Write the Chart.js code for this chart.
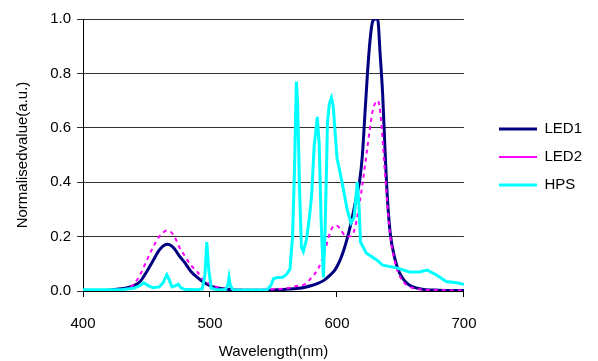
<!DOCTYPE html>
<html>
<head>
<meta charset="utf-8">
<script src="https://cdn.jsdelivr.net/npm/chart.js@4"></script>
<style>
  html, body { margin: 0; padding: 0; background: #fff; }
  #wrap { width: 598px; height: 361px; }
</style>
</head>
<body>
<div id="wrap"><canvas id="spectraChart" width="598" height="361"></canvas></div>
<script>
// wavelengths (nm) sampled for the two LED spectra
const ledNm = [400, 410, 420, 430, 435, 440, 445, 450, 455, 460, 463, 466, 469, 472, 476, 480, 485, 490, 495, 500,
  505, 510, 520, 530, 540, 550, 560, 570, 575, 580, 585, 590, 595, 598, 600, 603, 606, 609, 612, 615,
  618, 620, 622, 624, 626, 628, 630, 632, 634, 636, 638, 640, 642, 645, 648, 652, 656, 660, 665, 670,
  680, 690, 700];
const led1 = [0.002, 0.002, 0.003, 0.008, 0.012, 0.02, 0.035, 0.07, 0.11, 0.15, 0.165, 0.172, 0.168, 0.155, 0.128, 0.105, 0.072, 0.05, 0.032, 0.02,
  0.012, 0.008, 0.004, 0.003, 0.003, 0.004, 0.006, 0.01, 0.014, 0.02, 0.028, 0.04, 0.06, 0.075, 0.09, 0.12, 0.16, 0.21, 0.27, 0.34,
  0.41, 0.5, 0.65, 0.8, 0.92, 0.99, 1.0, 1.0, 0.87, 0.72, 0.5, 0.32, 0.21, 0.13, 0.08, 0.045, 0.025, 0.015, 0.008, 0.005,
  0.003, 0.002, 0.002];
const led2 = [0.002, 0.002, 0.003, 0.006, 0.01, 0.025, 0.06, 0.11, 0.16, 0.2, 0.215, 0.222, 0.218, 0.2, 0.16, 0.13, 0.095, 0.07, 0.04, 0.025,
  0.015, 0.01, 0.006, 0.005, 0.005, 0.006, 0.01, 0.02, 0.025, 0.05, 0.08, 0.14, 0.22, 0.24, 0.24, 0.225, 0.205, 0.2, 0.205, 0.25,
  0.33, 0.39, 0.46, 0.53, 0.6, 0.66, 0.69, 0.7, 0.66, 0.55, 0.42, 0.3, 0.2, 0.12, 0.07, 0.035, 0.018, 0.01, 0.006, 0.004,
  0.003, 0.002, 0.002];

// HPS lamp has narrow lines, so it gets its own wavelength list
const hpsNm = [400, 430, 440, 445, 448, 451, 455, 460, 463, 466, 468, 470, 473, 475, 477, 480, 490, 494, 496, 497.5,
  499, 501, 505, 512, 514, 515, 516, 518, 530, 545, 548, 550, 553, 557, 560, 563, 565, 566.5, 568, 569,
  570.5, 572, 573.5, 576, 578, 580, 582, 584.5, 586, 587.5, 589.3, 590.5, 591.7, 592.5, 594, 595.6, 597, 600, 604, 608,
  611, 613.5, 616, 617.5, 618.5, 623, 631, 636, 647, 657, 665, 671, 678, 686, 694, 700];
const hps = [0.005, 0.005, 0.01, 0.02, 0.03, 0.02, 0.012, 0.015, 0.03, 0.06, 0.04, 0.015, 0.02, 0.025, 0.012, 0.006, 0.005, 0.008, 0.06, 0.18,
  0.08, 0.01, 0.005, 0.005, 0.02, 0.05, 0.02, 0.005, 0.004, 0.005, 0.02, 0.045, 0.05, 0.05, 0.06, 0.08, 0.2, 0.44, 0.77, 0.69,
  0.38, 0.16, 0.145, 0.19, 0.26, 0.35, 0.53, 0.64, 0.54, 0.26, 0.05, 0.2, 0.44, 0.62, 0.69, 0.71, 0.68, 0.49, 0.4, 0.3,
  0.25, 0.27, 0.4, 0.3, 0.18, 0.14, 0.115, 0.095, 0.085, 0.07, 0.07, 0.077, 0.06, 0.035, 0.03, 0.025];

const xTicks = [400, 500, 600, 700];
const yTicks = [0, 0.2, 0.4, 0.6, 0.8, 1.0];

function pairs(xs, ys) {
    return xs.map((x, i) => ({ x: x, y: ys[i] }));
}

const font = { family: 'Liberation Sans, Arial, sans-serif', size: 15 };

// nudge the legend box so it sits where the original had it
const legendNudge = {
    id: 'legendNudge',
    afterLayout(chart) {
        const lg = chart.legend;
        lg.left += 22; lg.right += 22;
        lg.top -= 33; lg.bottom -= 33;
    }
};

const ctx = document.getElementById('spectraChart').getContext('2d');
new Chart(ctx, {
    type: 'line',
    data: {
        datasets: [{
            label: 'LED1',
            data: pairs(ledNm, led1),
            borderColor: '#000080',
            borderWidth: 3,
            pointRadius: 0,
            cubicInterpolationMode: 'monotone',
            order: 2
        }, {
            label: 'LED2',
            data: pairs(ledNm, led2),
            borderColor: '#ff00ff',
            borderWidth: 2,
            borderDash: [4, 4],
            pointRadius: 0,
            cubicInterpolationMode: 'monotone',
            order: 1
        }, {
            label: 'HPS',
            data: pairs(hpsNm, hps),
            borderColor: '#00ffff',
            borderWidth: 3,
            pointRadius: 0,
            tension: 0,
            order: 0
        }]
    },
    options: {
        responsive: false,
        animation: false,
        layout: { padding: { top: 19, right: 28, left: 0, bottom: 0 } },
        plugins: {
            tooltip: { enabled: false },
            legend: {
                position: 'right',
                labels: {
                    font: font,
                    color: '#000',
                    usePointStyle: true,
                    pointStyle: 'line',
                    pointStyleWidth: 38,
                    padding: 13,
                    sort: (a, b) => a.datasetIndex - b.datasetIndex
                }
            }
        },
        scales: {
            x: {
                type: 'linear',
                min: 400,
                max: 700,
                afterBuildTicks: axis => { axis.ticks = xTicks.map(v => ({ value: v })); },
                afterFit: axis => { axis.height = 70; },
                ticks: { font: font, color: '#000', padding: 18 },
                grid: { drawOnChartArea: false, drawTicks: true, tickLength: 6, color: '#000' },
                border: { color: '#000', width: 1 },
                title: { display: true, text: 'Wavelength(nm)', font: font, color: '#000', padding: { top: 0, bottom: 0 } }
            },
            y: {
                min: 0,
                max: 1,
                afterBuildTicks: axis => { axis.ticks = yTicks.map(v => ({ value: v })); },
                afterFit: axis => { axis.width = 83; },
                ticks: { font: font, color: '#000', padding: 6, callback: v => v.toFixed(1) },
                grid: { color: '#333', tickLength: 6 },
                border: { color: '#000', width: 1 },
                title: { display: true, text: 'Normalisedvalue(a.u.)', font: font, color: '#000', padding: { top: 14, bottom: 0 } }
            }
        }
    },
    plugins: [legendNudge]
});
</script>
</body>
</html>
